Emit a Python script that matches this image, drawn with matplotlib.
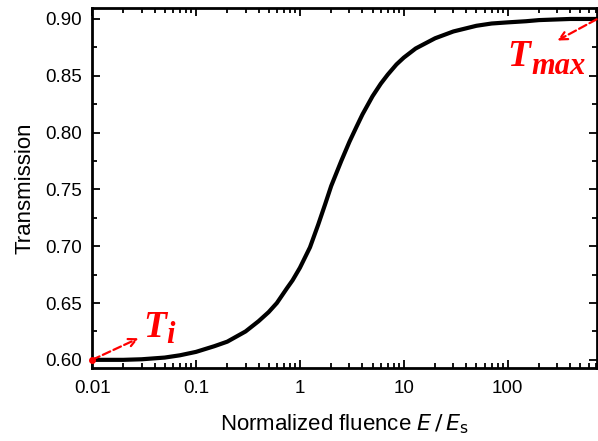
import matplotlib.pyplot as plt
from matplotlib.ticker import MultipleLocator, LogLocator, FixedLocator, NullFormatter

plt.rcParams['font.family'] = ['Liberation Sans', 'DejaVu Sans']

# values
fluence = [0.01, 0.02, 0.03, 0.05, 0.07, 0.1, 0.15, 0.2, 0.3, 0.4, 0.5, 0.6,
           0.75, 0.85, 1.0, 1.25, 1.5, 1.75, 2.0, 2.5, 3.0, 3.5, 4.0, 5.0,
           6.0, 7.0, 8.5, 10.0, 13.0, 15.0, 20.0, 30.0, 50.0, 70.0, 100.0,
           150.0, 200.0, 400.0, 720.0]
transmission = [0.600, 0.600, 0.6005, 0.602, 0.604, 0.607, 0.612, 0.616, 0.625,
                0.634, 0.642, 0.650, 0.663, 0.670, 0.681, 0.699, 0.719, 0.737,
                0.753, 0.775, 0.792, 0.805, 0.816, 0.832, 0.843, 0.851, 0.860,
                0.866, 0.874, 0.877, 0.883, 0.889, 0.894, 0.896, 0.897, 0.898,
                0.899, 0.900, 0.900]

x_ticks = [0.01, 0.1, 1, 10, 100]
x_tick_labels = ['0.01', '0.1', '1', '10', '100']
y_ticks = [0.60, 0.65, 0.70, 0.75, 0.80, 0.85, 0.90]

fig = plt.figure(figsize=(5.98, 4.41), dpi=100)
ax = fig.add_axes([0.154, 0.166, 0.844, 0.816])

ax.plot(fluence, transmission, color='black', lw=3, solid_capstyle='round',
        solid_joinstyle='round')

ax.set_xscale('log')
ax.set_xlim(0.01, 720)
ax.set_ylim(0.593, 0.9097)

ax.xaxis.set_major_locator(FixedLocator(x_ticks))
ax.set_xticklabels(x_tick_labels)
ax.xaxis.set_minor_locator(LogLocator(base=10, subs=range(2, 10)))
ax.xaxis.set_minor_formatter(NullFormatter())
ax.set_yticks(y_ticks)
ax.set_yticklabels([f'{v:.2f}' for v in y_ticks])
ax.yaxis.set_minor_locator(MultipleLocator(0.025))

ax.tick_params(which='both', direction='in', top=True, right=True,
               width=1.3, labelsize=13.5)
ax.tick_params(axis='x', pad=9)
ax.tick_params(axis='y', pad=7)
ax.tick_params(which='major', length=6)
ax.tick_params(which='minor', length=3.5)
for sp in ax.spines.values():
    sp.set_linewidth(2)

ax.set_ylabel('Transmission', fontsize=16, labelpad=7)
ax.set_xlabel(r'Normalized fluence $\mathit{E}\,/\,\mathit{E}_{\mathrm{s}}$',
              fontsize=16, labelpad=11)
ax.xaxis.label.set_math_fontfamily('dejavusans')

# red annotations
red_font = dict(color='red', family='Liberation Serif', style='italic',
                weight='bold')
arrow = dict(arrowstyle='->', linestyle='--', color='red', lw=1.6,
             shrinkA=0, shrinkB=0, mutation_scale=14)

ax.annotate('', xy=(0.028, 0.619), xytext=(0.01, 0.600),
            arrowprops=arrow, annotation_clip=False)
ax.plot([0.01], [0.600], 'o', color='red', ms=4, clip_on=False, zorder=5)
ax.text(0.031, 0.620, 'T', fontsize=27, **red_font)
ax.text(0.052, 0.615, 'i', fontsize=22, **red_font)

ax.annotate('', xy=(300, 0.881), xytext=(718, 0.8997),
            arrowprops=arrow, annotation_clip=False)
ax.text(100, 0.859, 'T', fontsize=27, **red_font)
ax.text(168, 0.852, 'max', fontsize=22, **red_font)

fig.savefig('out.png', dpi=100)
